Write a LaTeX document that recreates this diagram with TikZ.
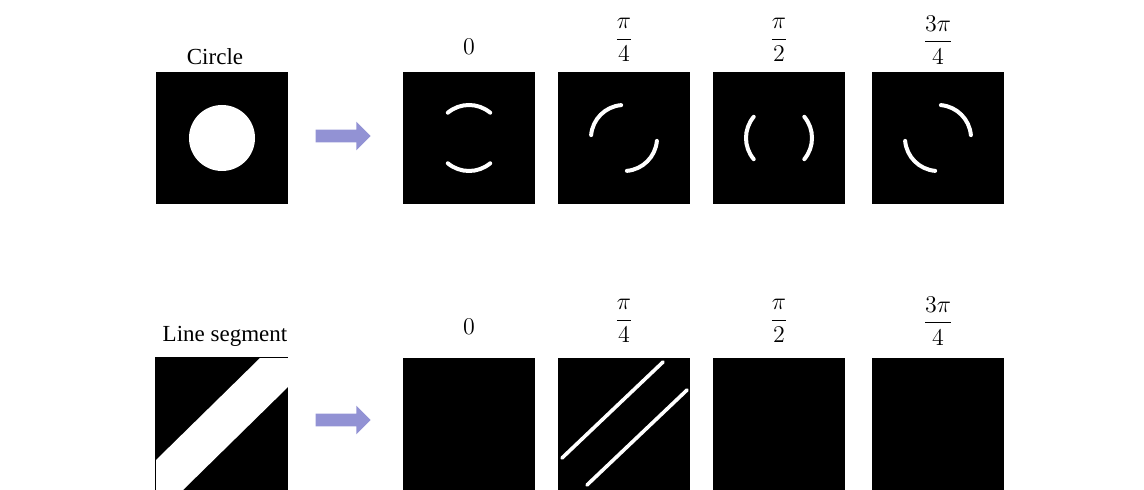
\documentclass[tikz,border=0pt]{standalone}
\usepackage{amsmath}
\usepackage[no-math]{fontspec}
\setmainfont{Liberation Serif}
\usepackage{tikz}
\usetikzlibrary{shapes.arrows}
\usepackage{xcolor}
\definecolor{arrowblue}{RGB}{146,146,212}

\begin{document}
\begin{tikzpicture}[x=0.5pt,y=-0.5pt,
	img/.style={rectangle,fill=black,inner sep=0pt,minimum width=66pt,minimum height=66pt},
	edgearc/.style={white,line width=2pt,line cap=round},
	edgeline/.style={white,line width=1.8pt,line cap=round},
	fatarrow/.style={single arrow,fill=arrowblue,draw=none,inner xsep=0pt,inner ysep=3pt,
		minimum height=27.5pt,single arrow head extend=4pt},
	lbl/.style={font=\fontsize{11.5}{13}\selectfont,anchor=base,inner sep=0pt},
	ang/.style={font=\fontsize{12.4}{14}\selectfont,inner sep=0pt}]
	
	\useasboundingbox (0,0) rectangle (1144,490);
	
	% Circle row
	\node[lbl] (tcirc) at (215,65) {Circle};
	\node[img] (cin) at (222,138) {};
	\fill[white] (cin.center) circle (33);
	
	\node[fatarrow] (carr) at (340,136) {};
	
	\foreach \name/\x/\p/\ly/\lab in {c0/469/90/47/{$0$},c1/624/135/40/{$\dfrac{\pi}{4}$},
		c2/779/0/40/{$\dfrac{\pi}{2}$},c3/938/45/40/{$\dfrac{3\pi}{4}$}}
	{
		\node[img] (\name) at (\x,138) {};
		\node[ang] (l\name) at (\x,\ly) {\lab};
		\foreach \t in {0,180}
		{
			\draw[edgearc] (\name.center) ++({-\p-\t-40}:33) arc[start angle={-\p-\t-40},delta angle=80,radius=33];
		}
	}
	
	% Line segment row
	\node[lbl] (tseg) at (225,342) {Line segment};
	\node[img] (sin) at (222,424) {};
	\fill[white] (156,460) -- (260,358) -- (288,358) -- (288,387) -- (183,490) -- (156,490) -- cycle;
	\draw[line width=0.6pt] (sin.south west) -- (sin.north west) -- (sin.north east);
	
	\node[fatarrow] (sarr) at (340,420) {};
	
	\foreach \name/\x/\ly/\lab in {s0/469/327/{$0$},s1/624/321/{$\dfrac{\pi}{4}$},
		s2/779/321/{$\dfrac{\pi}{2}$},s3/938/321/{$\dfrac{3\pi}{4}$}}
	{
		\node[img] (\name) at (\x,424) {};
		\node[ang] (l\name) at (\x,\ly) {\lab};
	}
	
	\draw[edgeline] (s1.center) ++(-62,34) -- ++(101,-96);
	\draw[edgeline] (s1.center) ++(-37,61) -- ++(100,-95);
	
\end{tikzpicture}
\end{document}
